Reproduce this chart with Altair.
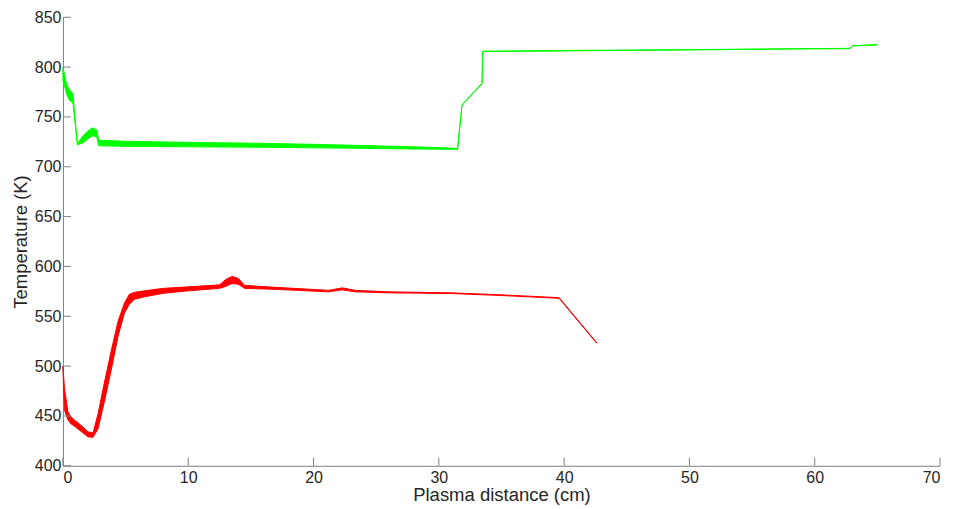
import altair as alt
import pandas as pd

# Green (hot) band
gx = [0, 0.3, 0.5, 0.8, 1.15, 1.6, 2.0, 2.35, 2.7, 2.85, 3.0, 5, 10, 15, 20, 25, 28, 31.5, 31.85, 33.45, 33.5, 40, 50, 58.8, 62.8, 63.0, 65.0]
g_upper = [800, 782, 778, 773, 723, 731, 736, 739, 737, 727, 726.5, 725.5, 724.5, 723.7, 722.5, 721, 720, 718.5, 762, 784, 816, 816.7, 817.5, 818.5, 818.8, 821.5, 822.5]
g_lower = [787, 773, 767, 764, 722, 724, 728, 731, 730, 721, 721, 720.5, 720, 719.7, 719, 718.3, 717.8, 717.5, 762, 783.3, 815.5, 816.2, 817.2, 818.2, 818.5, 821.2, 822.2]

# Red (cold) band
rx = [0, 0.12, 0.4, 0.65, 1.0, 1.5, 2.0, 2.4, 2.8, 3.3, 3.9, 4.4, 4.9, 5.3, 5.7, 6.5, 8, 10, 12.5, 13.0, 13.5, 14.0, 14.5, 17, 21.2, 22.3, 23.3, 26, 31, 35, 39.6, 42.6]
r_upper = [500, 478, 454, 449, 445, 440, 434, 433, 452, 483, 518, 545, 563, 572, 574, 575.5, 578, 579.5, 581.5, 587, 590, 588, 581, 579, 576, 578.5, 576, 574.5, 573.5, 571.5, 568.7, 523.5]
r_lower = [498, 456, 446, 442, 439, 434, 429, 428.5, 437, 464, 499, 530, 553, 562, 567, 569.5, 573, 575.5, 578, 580, 583, 582, 578, 577, 574.5, 576.5, 574.5, 573.5, 572.8, 570.8, 568, 523]

x_ticks = [0, 10, 20, 30, 40, 50, 60, 70]
y_ticks = [400, 450, 500, 550, 600, 650, 700, 750, 800, 850]

green = pd.DataFrame({"x": gx, "lo": g_lower, "hi": g_upper})
red = pd.DataFrame({"x": rx, "lo": r_lower, "hi": r_upper})
xt = pd.DataFrame({"v": x_ticks})
yt = pd.DataFrame({"v": y_ticks})

FONT = "Liberation Sans"
AX = "#808080"
TXT = "#262626"

xscale = alt.Scale(domain=[0, 70], nice=False, zero=False)
yscale = alt.Scale(domain=[400, 850], nice=False, zero=False)

xaxis = alt.Axis(values=x_ticks, title="Plasma distance (cm)", grid=False, ticks=False,
                 labelPadding=4, titlePadding=0, format="d")
yaxis = alt.Axis(values=y_ticks, title="Temperature (K)", grid=False, ticks=False,
                 labelPadding=2, titlePadding=4, format="d")

g_area = alt.Chart(green).mark_area(color="#00ff00", stroke="#00ff00", strokeWidth=1, opacity=1).encode(
    x=alt.X("x:Q", scale=xscale, axis=xaxis),
    y=alt.Y("lo:Q", scale=yscale, axis=yaxis),
    y2="hi:Q",
)
r_area = alt.Chart(red).mark_area(color="#ff0000", stroke="#ff0000", strokeWidth=1, opacity=1).encode(
    x=alt.X("x:Q", scale=xscale),
    y=alt.Y("lo:Q", scale=yscale),
    y2="hi:Q",
)
xtick_layer = alt.Chart(xt).mark_rule(color=AX, strokeWidth=1).encode(
    x=alt.X("v:Q", scale=xscale),
    y=alt.value(449),
    y2=alt.value(441),
)
ytick_layer = alt.Chart(yt).mark_rule(color=AX, strokeWidth=1).encode(
    y=alt.Y("v:Q", scale=yscale),
    x=alt.value(0),
    x2=alt.value(8),
)

chart = alt.layer(g_area, r_area, xtick_layer, ytick_layer).properties(
    width=878, height=449,
    autosize=alt.AutoSizeParams(type="none"),
    padding={"left": 55, "top": 9, "right": 8, "bottom": 39},
    background="white",
).configure_view(stroke=None).configure_axis(
    domainColor=AX, domainWidth=1,
    labelFont=FONT, labelFontSize=16, labelColor=TXT,
    titleFont=FONT, titleFontSize=18.5, titleColor=TXT, titleFontWeight="normal",
)

chart.save("out.html", embed_options={"renderer": "svg", "actions": False})
